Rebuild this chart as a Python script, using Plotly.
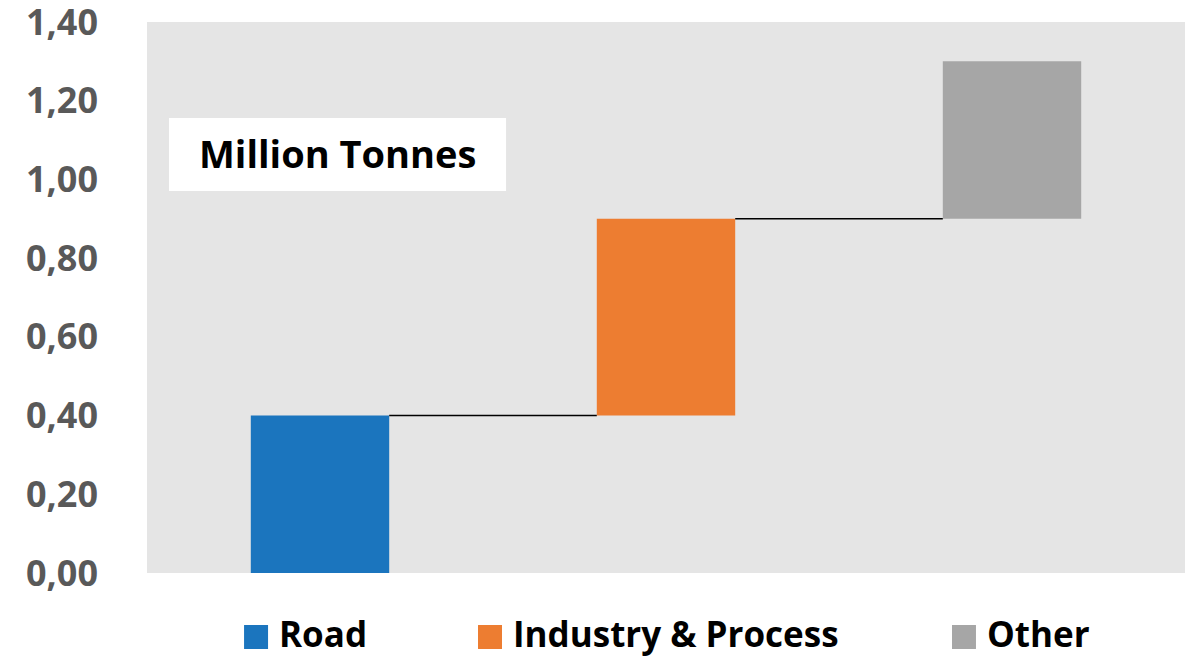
import plotly.graph_objects as go

# Emission contributions (million tonnes), stacked as a waterfall
categories = ["Road", "Industry & Process", "Other"]
values = [0.40, 0.50, 0.40]
colors = ["#1B75BE", "#ED7D31", "#A6A6A6"]
tick_vals = [0.0, 0.2, 0.4, 0.6, 0.8, 1.0, 1.2, 1.4]
tick_text = ["0,00", "0,20", "0,40", "0,60", "0,80", "1,00", "1,20", "1,40"]

BAR_WIDTH = 0.4
FONT = "Open Sans"

bases = []
running = 0.0
for v in values:
    bases.append(running)
    running += v

fig = go.Figure()
for i, (cat, v, b, c) in enumerate(zip(categories, values, bases, colors)):
    fig.add_trace(go.Bar(
        x=[i], y=[v], base=[b], name=cat, width=BAR_WIDTH,
        marker=dict(color=c, line=dict(width=0)), showlegend=False,
    ))

# connector lines between consecutive bars
shapes = []
for i in range(len(values) - 1):
    level = bases[i] + values[i]
    shapes.append(dict(
        type="line", xref="x", yref="y",
        x0=i + BAR_WIDTH / 2, x1=i + 1 - BAR_WIDTH / 2, y0=level, y1=level,
        line=dict(color="#000000", width=1.5), layer="above",
    ))

# unit label box
shapes.append(dict(
    type="rect", xref="paper", yref="paper",
    x0=0.0212, x1=0.3459, y0=0.6933, y1=0.8258,
    fillcolor="white", line=dict(width=0), layer="above",
))

annotations = [dict(
    text="<b>Million Tonnes</b>", xref="paper", yref="paper",
    x=0.1840, y=0.7620, xanchor="center", yanchor="middle", showarrow=False,
    font=dict(family=FONT, size=38, color="#000000"),
)]

# legend row below the plot
legend_x = [0.0935, 0.3189, 0.7755]
for lx, cat, c in zip(legend_x, categories, colors):
    shapes.append(dict(
        type="rect", xref="paper", yref="paper",
        x0=lx, x1=lx + 24 / 1038, y0=-0.1379, y1=-0.0944,
        fillcolor=c, line=dict(width=0),
    ))
    annotations.append(dict(
        text=f"<b>{cat}</b>", xref="paper", yref="paper",
        x=lx + 33 / 1038, y=-0.1090, xanchor="left", yanchor="middle",
        showarrow=False, font=dict(family=FONT, size=35, color="#000000"),
    ))

fig.update_layout(
    width=1193, height=658,
    margin=dict(l=147, r=8, t=22, b=85, autoexpand=False),
    paper_bgcolor="white", plot_bgcolor="#E5E5E5",
    barmode="overlay",
    showlegend=False,
    shapes=shapes, annotations=annotations,
    xaxis=dict(range=[-0.5, 2.5], showticklabels=False, showgrid=False,
               zeroline=False, ticks="", automargin=False),
    yaxis=dict(range=[0, 1.4], tickvals=tick_vals, ticktext=tick_text,
               showgrid=False, zeroline=False, ticks="", automargin=False,
               ticklabelstandoff=48, ticklabeloverflow="allow",
               tickfont=dict(family=FONT, size=36, color="#595959", weight="bold")),
)

fig.write_html("out.html")
